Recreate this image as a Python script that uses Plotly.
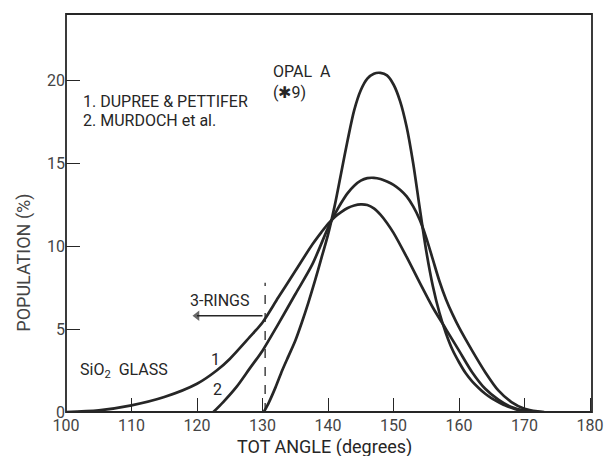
import plotly.graph_objects as go

# Curve 1: Dupree & Pettifer (SiO2 glass)
x1 = [100, 105, 110, 115, 120, 123, 125, 128, 130, 132.4, 135, 137.6, 139, 140, 141, 142, 143, 144,
      145, 146, 147, 148, 149, 150, 152, 154, 156, 158, 160, 162, 164, 166, 168, 170, 172]
y1 = [0.0, 0.1, 0.4, 0.9, 1.7, 2.5, 3.2, 4.5, 5.4, 6.9, 8.5, 10.1, 10.85, 11.35, 11.75, 12.05, 12.3, 12.45,
      12.52, 12.48, 12.28, 11.9, 11.4, 10.8, 9.35, 7.8, 6.3, 5.0, 3.7, 2.4, 1.4, 0.75, 0.3, 0.08, 0.0]

# Curve 2: Murdoch et al.
x2 = [122.5, 124, 126, 128, 130, 132.4, 135, 137.6, 140, 141, 142, 143, 144, 145, 146, 147, 148,
      149, 150, 151, 152, 153, 154, 155, 156, 157, 158, 159, 160, 162, 164, 166, 168, 170, 172, 173]
y2 = [0.0, 0.6, 1.5, 2.6, 3.7, 5.3, 7.1, 8.9, 11.1, 11.9, 12.6, 13.2, 13.65, 13.95, 14.1, 14.12, 14.05,
      13.9, 13.7, 13.4, 13.0, 12.4, 11.6, 10.5, 9.2, 7.9, 6.8, 5.9, 5.1, 3.7, 2.4, 1.3, 0.6, 0.2, 0.04, 0.0]

# Opal A (#9)
x3 = [130.2, 131, 132, 133, 134, 135, 136, 137, 138, 139, 140, 141, 142, 143, 144, 145, 146, 147, 148,
      149, 150, 151, 152, 153, 154, 155, 156, 157, 158, 159, 160, 161, 162, 163, 164, 165, 166, 167,
      168, 169, 170, 171]
y3 = [0.0, 0.6, 1.5, 2.5, 3.4, 4.3, 5.4, 6.6, 7.9, 9.3, 10.7, 12.4, 14.4, 16.4, 18.2, 19.4, 20.1, 20.4, 20.45,
      20.3, 19.75, 18.75, 17.2, 15.0, 12.3, 9.7, 7.6, 6.0, 4.75, 3.75, 3.0, 2.35, 1.85, 1.45, 1.1, 0.82, 0.6,
      0.4, 0.25, 0.12, 0.04, 0.0]

x_ticks = [100, 110, 120, 130, 140, 150, 160, 170, 180]
y_ticks = [0, 5, 10, 15, 20]

ring_x = 130.4
ring_top = 7.8
arrow_x = [130.0, 120.0]
arrow_y = [5.8, 5.8]

ink = "#262626"
font = "Roboto"

fig = go.Figure()
for xs, ys in [(x1, y1), (x2, y2), (x3, y3)]:
    fig.add_trace(go.Scatter(x=xs, y=ys, mode="lines",
                             line=dict(color=ink, width=2.7, shape="spline", smoothing=0.8),
                             showlegend=False, hoverinfo="skip"))

fig.add_trace(go.Scatter(x=[ring_x, ring_x], y=[0, ring_top], mode="lines",
                         line=dict(color=ink, width=1.3, dash="dash"),
                         showlegend=False, hoverinfo="skip"))

fig.add_trace(go.Scatter(x=arrow_x, y=arrow_y, mode="lines+markers",
                         line=dict(color=ink, width=1.4),
                         marker=dict(symbol=["line-ns", "triangle-left"], size=[0, 9], color=ink,
                                     line=dict(width=0)),
                         showlegend=False, hoverinfo="skip"))

txt = dict(font=dict(family=font, size=16, color=ink), showarrow=False, xref="x", yref="y")
fig.add_annotation(x=131.3, y=19.9, text="OPAL  A<br>(✱9)", xanchor="left", align="left", **txt)
fig.add_annotation(x=102.3, y=18.75, text="1. DUPREE &amp; PETTIFER", xanchor="left", **txt)
fig.add_annotation(x=102.3, y=17.6, text="2. MURDOCH et al.", xanchor="left", **txt)
fig.add_annotation(x=128.2, y=6.7, text="3-RINGS", xanchor="right", **txt)
fig.add_annotation(x=101.9, y=2.5, text="SiO<sub>2</sub>  GLASS", xanchor="left", **txt)
fig.add_annotation(x=122.8, y=3.15, text="1", xanchor="center", **txt)
fig.add_annotation(x=123.2, y=1.35, text="2", xanchor="center", **txt)

fig.add_annotation(x=-0.08, y=9.0, xref="paper", yref="y", textangle=-90,
                   xanchor="center", yanchor="middle",
                   text="POPULATION (%)", showarrow=False,
                   font=dict(family=font, size=18, color="#444"))
fig.add_annotation(x=139.4, y=-0.088, xref="x", yref="paper",
                   xanchor="center", yanchor="middle",
                   text="TOT ANGLE (degrees)", showarrow=False,
                   font=dict(family=font, size=18, color=ink))

fig.add_shape(type="rect", xref="paper", yref="paper", x0=0, y0=0, x1=1, y1=1,
              line=dict(color=ink, width=1.8), layer="above")

fig.update_layout(
    width=608, height=456,
    margin=dict(l=66, r=16, t=14, b=44, autoexpand=False),
    paper_bgcolor="white", plot_bgcolor="white",
    font=dict(family=font, color=ink),
    xaxis=dict(range=[100, 180.3], tickvals=x_ticks, ticks="inside", ticklen=14,
               tickwidth=1.3, tickcolor=ink, showgrid=False, zeroline=False, automargin=False,
               showline=False, tickfont=dict(size=16, color="#444"), ticklabelstandoff=2),
    yaxis=dict(range=[0, 24], tickvals=y_ticks, ticks="inside", ticklen=14,
               tickwidth=1.3, tickcolor=ink, showgrid=False, zeroline=False, automargin=False,
               showline=False, tickfont=dict(size=16, color="#444")),
)

fig.write_html(
    "out.html",
    config={"displayModeBar": False},
    post_script="document.body.style.margin='0px';"
                "document.body.style.overflow='hidden';"
                "document.documentElement.style.overflow='hidden';",
)
